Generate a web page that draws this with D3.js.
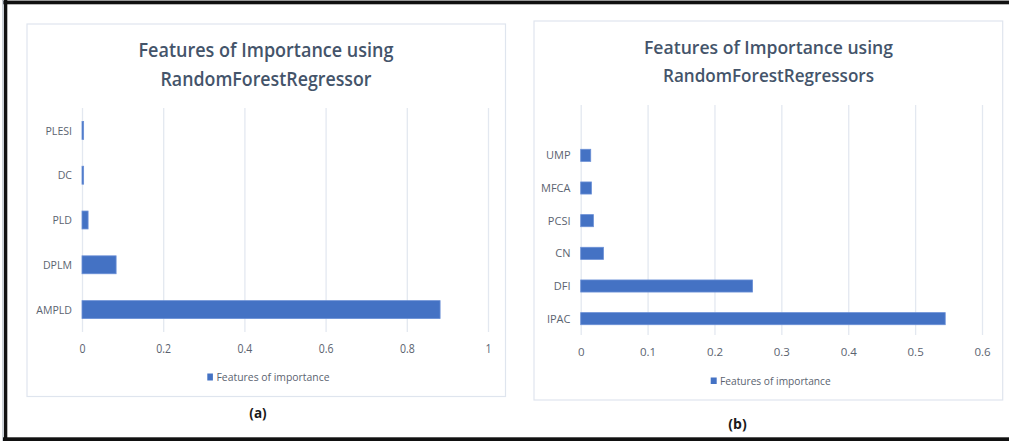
<!DOCTYPE html>
<html>
<head>
<meta charset="utf-8">
<script src="https://cdn.jsdelivr.net/npm/d3@7/dist/d3.min.js"></script>
<style>
  html, body { margin: 0; padding: 0; background: #fff; }
  svg { display: block; }
  text { font-family: "Open Sans", "Noto Sans", sans-serif; }
</style>
</head>
<body>
<svg id="chart" width="1009" height="441"></svg>
<script>
// ---------- data ----------
const leftCategories = ["PLESI", "DC", "PLD", "DPLM", "AMPLD"];
const leftValues = [0.004, 0.004, 0.015, 0.084, 0.882];
const leftTicks = [0, 0.2, 0.4, 0.6, 0.8, 1];
const leftTitle = ["Features of Importance  using", "RandomForestRegressor"];

const rightCategories = ["UMP", "MFCA", "PCSI", "CN", "DFI", "IPAC"];
const rightValues = [0.015, 0.016, 0.019, 0.034, 0.257, 0.545];
const rightTicks = [0, 0.1, 0.2, 0.3, 0.4, 0.5, 0.6];
const rightTitle = ["Features of Importance using", "RandomForestRegressors"];

const legendLabel = "Features of importance";
const captions = ["(a)", "(b)"];

// ---------- layout ----------
const panels = [
  {
    cats: leftCategories, vals: leftValues, ticks: leftTicks, title: leftTitle, caption: captions[0],
    box: [27, 24, 505.5, 396.5],
    x0: 82, x1: 488, domainMax: 1,
    gridTop: 108, gridBottom: 332,
    bandTop: 108, bandBottom: 332, padIn: 0.6, padOut: 0.3,
    tickBase: 352.5, tickSize: 13.5, tickSx: 0.78,
    catRight: 72, catSize: 11.5, catSx: 0.92,
    titleX: 266, titleY: [56.5, 85.5], titleW: [255, 211], titleSize: 20,
    legSq: [207.3, 373.5, 5.6, 7], legX: 216.5, legY: 381, legW: 113,
    capX: 258, capY: 417.5, capSize: 13.5
  },
  {
    cats: rightCategories, vals: rightValues, ticks: rightTicks, title: rightTitle, caption: captions[1],
    box: [534, 21, 1002.7, 400],
    x0: 580.7, x1: 982, domainMax: 0.6,
    gridTop: 105, gridBottom: 335,
    bandTop: 139, bandBottom: 335, padIn: 0.63, padOut: 0.315,
    tickBase: 355.5, tickSize: 11.5, tickSx: 1,
    catRight: 570.5, catSize: 11, catSx: 1,
    titleX: 768.5, titleY: [53.5, 82], titleW: [249, 211], titleSize: 18.5,
    legSq: [710.7, 377.5, 6, 6.5], legX: 720, legY: 384.5, legW: 110.7,
    capX: 737.5, capY: 429, capSize: 14
  }
];

const svg = d3.select("#chart");

// outer frame (scanned border)
svg.append("rect").attr("x", 2.5).attr("y", 0).attr("width", 1006.5).attr("height", 1).attr("fill", "#9a9a9a");
svg.append("rect").attr("x", 3).attr("y", 1).attr("width", 1006).attr("height", 3.3).attr("fill", "#111");
svg.append("rect").attr("x", 2.5).attr("y", 0).attr("width", 1).attr("height", 441).attr("fill", "#9aa3b0");
svg.append("rect").attr("x", 4).attr("y", 0).attr("width", 3.3).attr("height", 441).attr("fill", "#111");
svg.append("rect").attr("x", 3).attr("y", 437.3).attr("width", 1006).attr("height", 3.7).attr("fill", "#111");

const textColor = "#5b6370";
const titleColor = "#44546a";
const barColor = "#4472c4";

panels.forEach(p => {
  const g = svg.append("g");

  // chart area border
  g.append("rect")
    .attr("x", p.box[0]).attr("y", p.box[1])
    .attr("width", p.box[2] - p.box[0]).attr("height", p.box[3] - p.box[1])
    .attr("fill", "#fff").attr("stroke", "#dfe5ee").attr("stroke-width", 1.2);

  const x = d3.scaleLinear().domain([0, p.domainMax]).range([p.x0, p.x1]);
  const y = d3.scaleBand().domain(p.cats).range([p.bandTop, p.bandBottom])
    .paddingInner(p.padIn).paddingOuter(p.padOut);

  // gridlines
  const grid = g.append("g").attr("transform", `translate(0,${p.gridBottom})`)
    .call(d3.axisBottom(x).tickValues(p.ticks).tickSize(-(p.gridBottom - p.gridTop)).tickFormat(""));
  grid.select(".domain").remove();
  grid.selectAll("line").attr("stroke", "#e3e8f0").attr("stroke-width", 1.3);

  // x tick labels
  const xa = g.append("g").attr("transform", `translate(0,${p.tickBase})`)
    .call(d3.axisBottom(x).tickValues(p.ticks).tickSize(0).tickPadding(0).tickFormat(d => String(d)));
  xa.select(".domain").remove();
  xa.selectAll("text")
    .attr("y", 0).attr("dy", 0)
    .attr("fill", textColor)
    .style("font-size", p.tickSize + "px")
    .attr("transform", `scale(${p.tickSx},1)`);

  // bars
  g.selectAll("rect.bar").data(p.cats.map((c, i) => ({ c, v: p.vals[i] })))
    .join("rect").attr("class", "bar")
    .attr("x", x(0))
    .attr("y", d => y(d.c))
    .attr("width", d => x(d.v) - x(0))
    .attr("height", y.bandwidth())
    .attr("fill", barColor)
    .attr("stroke", "#6a8fd6").attr("stroke-width", 0.8);

  // category labels
  const ya = g.append("g").attr("transform", `translate(${p.catRight},0)`)
    .call(d3.axisLeft(y).tickSize(0).tickPadding(0));
  ya.select(".domain").remove();
  ya.selectAll("text")
    .attr("x", 0)
    .attr("dy", "0.36em")
    .attr("fill", textColor)
    .style("font-size", p.catSize + "px")
    .attr("transform", `scale(${p.catSx},1)`);

  // title
  p.title.forEach((line, i) => {
    g.append("text")
      .attr("x", p.titleX).attr("y", p.titleY[i])
      .attr("text-anchor", "middle")
      .attr("fill", titleColor)
      .style("font-size", p.titleSize + "px")
      .style("font-weight", 600)
      .attr("textLength", p.titleW[i])
      .attr("lengthAdjust", "spacingAndGlyphs")
      .text(line);
  });

  // legend
  g.append("rect")
    .attr("x", p.legSq[0]).attr("y", p.legSq[1])
    .attr("width", p.legSq[2]).attr("height", p.legSq[3])
    .attr("fill", barColor);
  g.append("text")
    .attr("x", p.legX).attr("y", p.legY)
    .attr("fill", textColor)
    .style("font-size", "10.5px")
    .attr("textLength", p.legW)
    .attr("lengthAdjust", "spacingAndGlyphs")
    .text(legendLabel);

  // caption
  g.append("text")
    .attr("x", p.capX).attr("y", p.capY)
    .attr("text-anchor", "middle")
    .attr("fill", "#1a1a1a")
    .style("font-size", p.capSize + "px")
    .style("font-weight", 700)
    .text(p.caption);
});
</script>
</body>
</html>
